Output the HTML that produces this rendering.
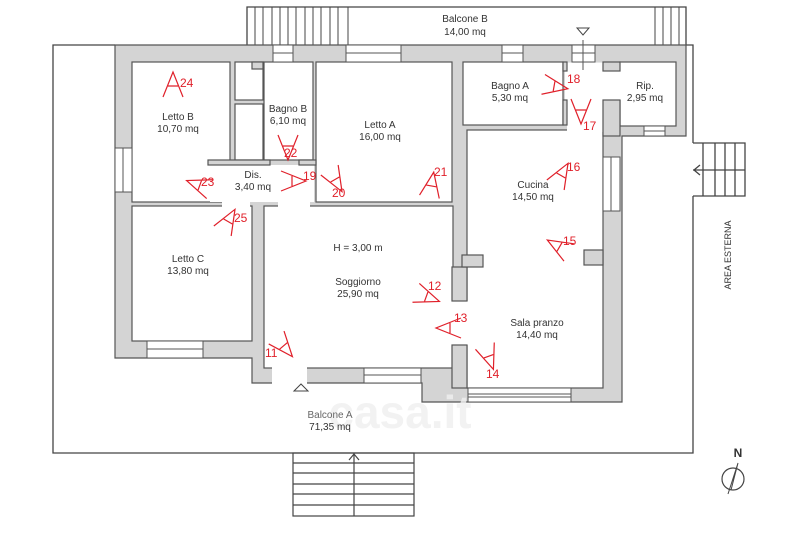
<!DOCTYPE html>
<html><head><meta charset="utf-8"><style>
html,body{margin:0;padding:0;background:#fff;}
svg{display:block;}
text{font-family:"Liberation Sans",sans-serif;fill:#333;}
.l{font-size:10px;text-anchor:middle;}
.r{font-size:12px;fill:#e0202a;}
.m{stroke:#e0202a;stroke-width:1.2;fill:none;}
</style></head><body>
<svg width="800" height="538" viewBox="0 0 800 538" xmlns="http://www.w3.org/2000/svg">
<g fill="none" stroke="#444" stroke-width="1.3">
<path d="M115,45 H53 V453 H693 V196"/>
<path d="M686,45 H693 V143"/>
<path d="M247,45 V7 H686 V45"/>
<path d="M693,143 H745 V196 H693 M693,170 H745 M703,143 V196 M715,143 V196 M725,143 V196 M735,143 V196"/>
<path d="M700,165 L694,170 L700,175"/>
</g>
<g stroke="#444" stroke-width="1">
<path d="M255,7V45M263,7V45M272,7V45M280,7V45M288,7V45M296,7V45M305,7V45M313,7V45M321,7V45M330,7V45M338,7V45M348,7V45"/>
<path d="M655,7V45M663,7V45M671,7V45M679,7V45"/>
</g>
<g fill="none" stroke="#444" stroke-width="1.2">
<rect x="293" y="453" width="121" height="63"/>
<path d="M293,463H414M293,473H414M293,484H414M293,494H414M293,505H414M354,453V516"/>
<path d="M349,460L354,454L359,460"/>
</g>
<path d="M115,45 H686 V136 H622 V402 H422 V383 H252 V358 H115 Z" fill="#d4d4d4" stroke="#555" stroke-width="1.2"/>
<g fill="#fff" stroke="#555" stroke-width="1.2">
<rect x="132" y="62" width="98" height="140"/>
<rect x="235" y="62" width="28" height="38"/>
<rect x="235" y="104" width="28" height="56"/>
<rect x="264" y="62" width="49" height="98"/>
<rect x="316" y="62" width="136" height="140"/>
<rect x="132" y="206" width="120" height="135"/>
<rect x="264" y="206" width="189" height="162"/>
<rect x="463" y="62" width="100" height="63"/>
<rect x="620" y="62" width="56" height="64"/>
<rect x="467" y="130" width="136" height="258"/>
</g>
<g fill="#fff">
<rect x="210" y="165" width="104" height="37"/>
<rect x="222" y="200" width="28" height="8"/>
<rect x="278" y="200" width="32" height="8"/>
<rect x="565" y="62.6" width="56" height="37.4"/>
<rect x="567" y="99" width="36" height="33"/>
<rect x="448" y="301" width="22" height="44"/>
<rect x="272" y="366" width="35" height="18"/>
</g>
<g fill="#d4d4d4" stroke="#555" stroke-width="1.2">
<rect x="452" y="267" width="15" height="34"/>
<rect x="462" y="255" width="21" height="12"/>
<rect x="452" y="345" width="15" height="43"/>
<rect x="584" y="250" width="19" height="15"/>
<rect x="603" y="100" width="17" height="36"/>
<rect x="603" y="62" width="17" height="9"/>
<rect x="252" y="62" width="11" height="7"/>
<rect x="563" y="100" width="4" height="25"/>
<rect x="563" y="62" width="4" height="9"/>
<rect x="208" y="160" width="62" height="5"/>
<rect x="299" y="160" width="17" height="5"/>
</g>
<g fill="#fff" stroke="#555" stroke-width="1">
<rect x="115" y="148" width="17" height="44"/><path d="M123,148V192"/>
<rect x="273" y="45" width="20" height="17"/><path d="M273,53H293"/>
<rect x="346" y="45" width="55" height="17"/><path d="M346,53H401"/>
<rect x="502" y="45" width="21" height="17"/><path d="M502,53H523"/>
<rect x="572" y="45" width="23" height="17"/><path d="M572,53H595M583,40V70"/>
<rect x="644" y="126" width="21" height="10"/><path d="M644,131H665"/>
<rect x="603" y="157" width="17" height="54"/><path d="M611,157V211"/>
<rect x="147" y="341" width="56" height="17"/><path d="M147,349H203"/>
<rect x="364" y="368" width="57" height="15"/><path d="M364,375H421"/>
<rect x="468" y="388" width="103" height="14"/><path d="M468,394H571M468,397H571"/>
</g>
<path d="M577,28H589L583,35Z" fill="none" stroke="#444"/>
<path d="M294,391L301,384L308,391Z" fill="none" stroke="#444"/>
<text x="400" y="428" style="font-size:46px;fill:#f0f0f0;font-weight:bold;opacity:.8" text-anchor="middle">casa.it</text>
<text class="l" x="465" y="22">Balcone B</text><text class="l" x="465" y="35">14,00 mq</text>
<text class="l" x="178" y="120">Letto B</text><text class="l" x="178" y="132">10,70 mq</text>
<text class="l" x="288" y="112">Bagno B</text><text class="l" x="288" y="124">6,10 mq</text>
<text class="l" x="380" y="128">Letto A</text><text class="l" x="380" y="140">16,00 mq</text>
<text class="l" x="253" y="178">Dis.</text><text class="l" x="253" y="190">3,40 mq</text>
<text class="l" x="510" y="89">Bagno A</text><text class="l" x="510" y="101">5,30 mq</text>
<text class="l" x="645" y="89">Rip.</text><text class="l" x="645" y="101">2,95 mq</text>
<text class="l" x="533" y="188">Cucina</text><text class="l" x="533" y="200">14,50 mq</text>
<text class="l" x="358" y="251">H = 3,00 m</text>
<text class="l" x="188" y="262">Letto C</text><text class="l" x="188" y="274">13,80 mq</text>
<text class="l" x="358" y="285">Soggiorno</text><text class="l" x="358" y="297">25,90 mq</text>
<text class="l" x="537" y="326">Sala pranzo</text><text class="l" x="537" y="338">14,40 mq</text>
<text class="l" x="330" y="418" style="fill:#666">Balcone A</text><text class="l" x="330" y="430">71,35 mq</text>
<text class="l" x="0" y="0" transform="translate(731,255) rotate(-90)" style="font-size:9px">AREA ESTERNA</text>
<text x="738" y="457" style="font-size:12px;font-weight:bold;fill:#333" text-anchor="middle">N</text>
<circle cx="733" cy="479" r="11" fill="none" stroke="#444" stroke-width="1.2"/>
<path d="M738,463L728,494M738,463L731,490" stroke="#444" fill="none"/>
<g class="m">
<path transform="translate(173,82)" d="M-10,15L0,-10L10,15M-5,4L5,4"/>
<path transform="translate(196,184) rotate(-70)" d="M-10,15L0,-10L10,15M-5,4L5,4"/>
<path transform="translate(288,150) rotate(180)" d="M-10,15L0,-10L10,15M-5,4L5,4"/>
<path transform="translate(296,181) rotate(90)" d="M-10,15L0,-10L10,15M-5,4L5,4"/>
<path transform="translate(337,183) rotate(150)" d="M-10,15L0,-10L10,15M-5,4L5,4"/>
<path transform="translate(432,182) rotate(10)" d="M-10,15L0,-10L10,15M-5,4L5,4"/>
<path transform="translate(230,218) rotate(30)" d="M-10,15L0,-10L10,15M-5,4L5,4"/>
<path transform="translate(558,87) rotate(100)" d="M-10,15L0,-10L10,15M-5,4L5,4"/>
<path transform="translate(581,114) rotate(180)" d="M-10,15L0,-10L10,15M-5,4L5,4"/>
<path transform="translate(563,172) rotate(30)" d="M-10,15L0,-10L10,15M-5,4L5,4"/>
<path transform="translate(556,245) rotate(-60)" d="M-10,15L0,-10L10,15M-5,4L5,4"/>
<path transform="translate(430,298) rotate(110)" d="M-10,15L0,-10L10,15M-5,4L5,4"/>
<path transform="translate(446,328) rotate(-90)" d="M-10,15L0,-10L10,15M-5,4L5,4"/>
<path transform="translate(490,360) rotate(160)" d="M-10,15L0,-10L10,15M-5,4L5,4"/>
<path transform="translate(286,349) rotate(140)" d="M-10,15L0,-10L10,15M-5,4L5,4"/>
</g>
<g class="r">
<text class="r" x="180" y="87">24</text>
<text class="r" x="201" y="186">23</text>
<text class="r" x="284" y="157">22</text>
<text class="r" x="303" y="180">19</text>
<text class="r" x="332" y="197">20</text>
<text class="r" x="434" y="176">21</text>
<text class="r" x="234" y="222">25</text>
<text class="r" x="567" y="83">18</text>
<text class="r" x="583" y="130">17</text>
<text class="r" x="567" y="171">16</text>
<text class="r" x="563" y="245">15</text>
<text class="r" x="428" y="290">12</text>
<text class="r" x="454" y="322">13</text>
<text class="r" x="486" y="378">14</text>
<text class="r" x="265" y="357">11</text>
</g>
</svg>
</body></html>
